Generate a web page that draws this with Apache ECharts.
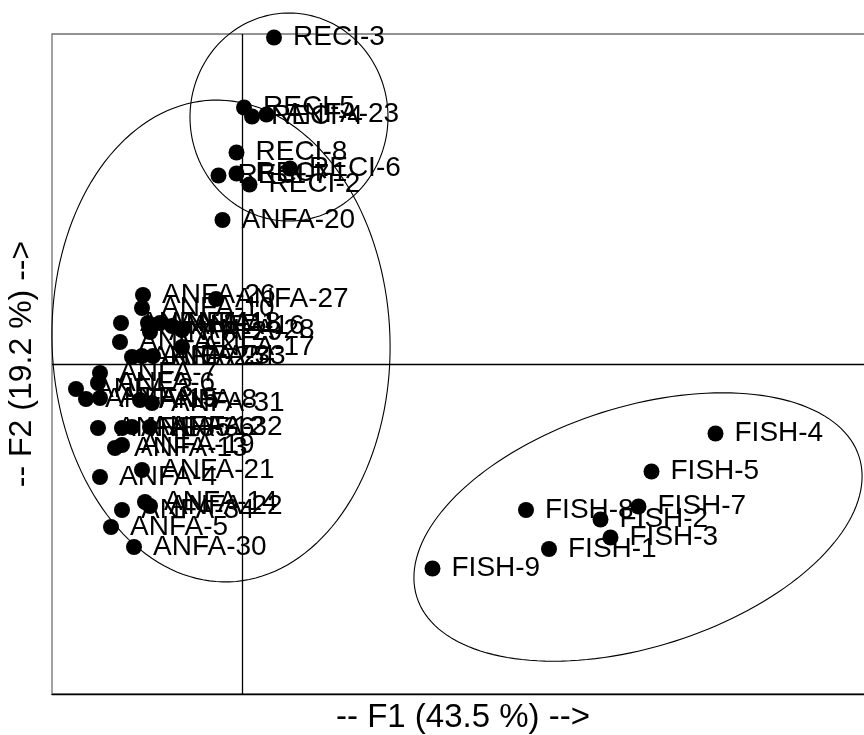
<!DOCTYPE html>
<html>
<head>
<meta charset="utf-8">
<title>F1 x F2</title>
<script src="https://cdn.jsdelivr.net/npm/echarts@6/dist/echarts.min.js"></script>
<style>
  html, body { margin: 0; padding: 0; background: #ffffff; }
  #chart { width: 864px; height: 735px; }
</style>
</head>
<body>
<div id="chart"></div>
<script>
// Factor scores on the first two axes, by group
const anfaNames = ['ANFA-1','ANFA-2','ANFA-3','ANFA-4','ANFA-5','ANFA-6','ANFA-7','ANFA-8','ANFA-9','ANFA-10',
  'ANFA-11','ANFA-12','ANFA-13','ANFA-14','ANFA-15','ANFA-16','ANFA-17','ANFA-18','ANFA-19','ANFA-20',
  'ANFA-21','ANFA-22','ANFA-23','ANFA-24','ANFA-25','ANFA-26','ANFA-27','ANFA-28','ANFA-29','ANFA-30',
  'ANFA-31','ANFA-32','ANFA-33','ANFA-34','ANFA-35','ANFA-36'];
const anfaF1 = [-1.64,-2.44,-3.32,-2.84,-2.62,-2.88,-2.84,-2.04,-2.84,-2.00,
  -2.42,-2.20,-2.54,-1.94,-3.12,-1.40,-1.20,-1.88,-2.40,-0.39,
  -2.00,-1.84,0.49,-2.00,-2.20,-1.98,-0.52,-1.20,-1.84,-2.16,
  -1.80,-1.84,-1.78,-2.40,-2.88,-2.40];
const anfaF2 = [0.82,0.44,-0.50,-2.26,-3.26,-0.38,-0.18,-0.72,-0.68,1.12,
  0.82,-1.26,-1.68,-2.76,-0.70,0.76,0.34,0.82,-1.62,2.88,
  -2.12,-2.84,4.99,0.16,0.14,1.38,1.30,0.68,0.64,-3.66,
  -0.78,-1.26,0.16,-2.92,-1.28,-1.28];

const reciNames = ['RECI-1','RECI-2','RECI-3','RECI-4','RECI-5','RECI-6','RECI-7','RECI-8'];
const reciF1 = [-0.11,0.15,0.64,0.20,0.04,0.96,-0.47,-0.11];
const reciF2 = [3.81,3.59,6.53,4.95,5.13,3.91,3.77,4.23];

const fishNames = ['FISH-1','FISH-2','FISH-3','FISH-4','FISH-5','FISH-7','FISH-8','FISH-9'];
const fishF1 = [6.14,7.17,7.37,9.47,8.19,7.93,5.68,3.81];
const fishF2 = [-3.70,-3.11,-3.47,-1.39,-2.15,-2.85,-2.92,-4.09];

// Group ellipses: centre, semi-axes and orientation (degrees) in factor units
const ellipseGroups = ['ANFA','RECI','FISH'];
const ellipseCx = [-0.42, 0.94, 7.92];
const ellipseCy = [0.46, 4.94, -3.26];
const ellipseA = [4.82, 1.98, 4.64];
const ellipseB = [3.38, 2.08, 2.40];
const ellipseAngle = [92, 0, 17.6];

const xTitle = '-- F1 (43.5 %) -->';
const yTitle = '-- F2 (19.2 %) -->';

const FONT = '"Liberation Sans", Arial, Helvetica, sans-serif';

function buildPoints(names, f1, f2) {
  return names.map((n, i) => ({ name: n, value: [f1[i], f2[i]] }));
}
const points = []
  .concat(buildPoints(anfaNames, anfaF1, anfaF2))
  .concat(buildPoints(reciNames, reciF1, reciF2))
  .concat(buildPoints(fishNames, fishF1, fishF2));

const ellipseData = ellipseGroups.map((g, i) =>
  [ellipseCx[i], ellipseCy[i], ellipseA[i], ellipseB[i], ellipseAngle[i]]);

const chart = echarts.init(document.getElementById('chart'), null, { renderer: 'canvas' });

chart.setOption({
  animation: false,
  backgroundColor: '#ffffff',
  grid: {
    // the plotting region runs past the right edge of the page
    left: 52, top: 34, width: 822, height: 660,
    outerBoundsMode: 'none',
    containLabel: false,
    show: true, borderColor: '#707070', borderWidth: 1.3, backgroundColor: 'transparent'
  },
  xAxis: {
    type: 'value', min: -3.8, max: 12.64,
    axisLine: { show: true, onZero: false, lineStyle: { color: '#000', width: 1.3 } },
    axisTick: { show: false }, axisLabel: { show: false }, splitLine: { show: false },
    name: xTitle, nameLocation: 'middle', nameGap: 7,
    nameTextStyle: { fontFamily: FONT, fontSize: 33, color: '#000' }
  },
  yAxis: {
    type: 'value', min: -6.6, max: 6.6,
    axisLine: { show: false }, axisTick: { show: false }, axisLabel: { show: false },
    splitLine: { show: false },
    name: yTitle, nameLocation: 'middle', nameGap: 14,
    nameTextStyle: { fontFamily: FONT, fontSize: 32, color: '#000' }
  },
  series: [
    {
      type: 'custom',
      clip: false,
      silent: true,
      z: 1,
      data: ellipseData,
      renderItem: function (params, api) {
        const cx = api.value(0), cy = api.value(1);
        const a = api.value(2), b = api.value(3);
        const t = api.value(4) * Math.PI / 180;
        const pts = [];
        const n = 160;
        for (let k = 0; k <= n; k++) {
          const u = 2 * Math.PI * k / n;
          const ex = a * Math.cos(u), ey = b * Math.sin(u);
          pts.push(api.coord([cx + ex * Math.cos(t) - ey * Math.sin(t),
                              cy + ex * Math.sin(t) + ey * Math.cos(t)]));
        }
        return {
          type: 'polyline',
          shape: { points: pts },
          style: { fill: null, stroke: '#000', lineWidth: 1.1 }
        };
      }
    },
    {
      type: 'scatter',
      z: 3,
      symbol: 'circle',
      symbolSize: 16,
      itemStyle: { color: '#000', opacity: 1 },
      label: {
        show: true, position: 'right', distance: 11,
        formatter: '{b}', color: '#000', fontFamily: FONT, fontSize: 28
      },
      data: points,
      markLine: {
        silent: true, symbol: 'none', animation: false,
        label: { show: false },
        lineStyle: { color: '#000', width: 1.3, type: 'solid' },
        data: [{ xAxis: 0 }, { yAxis: 0 }]
      }
    }
  ]
});
</script>
</body>
</html>
